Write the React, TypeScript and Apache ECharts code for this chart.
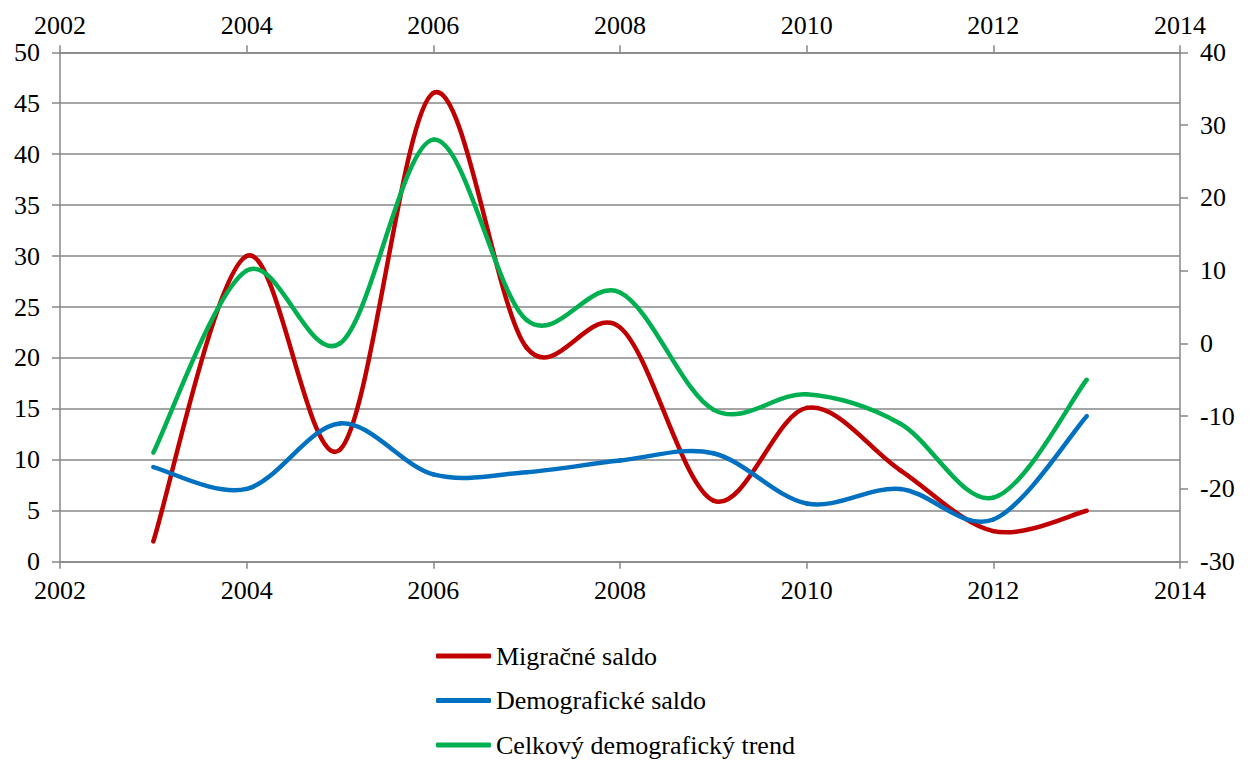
import React, { useEffect, useRef } from "react";
import * as echarts from "echarts";

const years = [2003, 2004, 2005, 2006, 2007, 2008, 2009, 2010, 2011, 2012, 2013];
const migracne = [2, 30, 11, 46, 21, 23, 6, 15.1, 9, 3, 5];
const demograficke = [-17, -20, -11, -18, -17.7, -16.1, -15.1, -22, -20, -24.2, -10];
const celkovy = [-15, 10, 0, 28, 3.2, 7, -9.1, -7, -11, -21.2, -5];

const xTicks = { min: 2002, max: 2014, interval: 2 };
const leftTicks = { min: 0, max: 50, interval: 5 };
const rightTicks = { min: -30, max: 40, interval: 10 };

const names = ["Migračné saldo", "Demografické saldo", "Celkový demografický trend"];
const colors = ["#C00000", "#0070C0", "#00B050"];

const FONT = "Liberation Serif";
const AXIS = "#878787";

// Excel-like smoothing: tangent = (next - prev) / 6, limited to half of the segment length
function makeRenderItem(values: number[], color: string) {
  return (params: any, api: any) => {
    const i = params.dataIndex;
    const n = values.length;
    if (i >= n - 1) return null;
    const pts = values.map((v, j) => api.coord([years[j], v]) as number[]);
    const p0 = pts[Math.max(i - 1, 0)];
    const p1 = pts[i];
    const p2 = pts[i + 1];
    const p3 = pts[Math.min(i + 2, n - 1)];
    const d12 = Math.hypot(p2[0] - p1[0], p2[1] - p1[1]);
    const limit = (vx: number, vy: number) => {
      const len = Math.hypot(vx, vy);
      const max = d12 / 2;
      if (len > max && len > 0) return [(vx * max) / len, (vy * max) / len];
      return [vx, vy];
    };
    const t1 = limit((p2[0] - p0[0]) / 6, (p2[1] - p0[1]) / 6);
    const t2 = limit((p3[0] - p1[0]) / 6, (p3[1] - p1[1]) / 6);
    return {
      type: "bezierCurve",
      shape: {
        x1: p1[0],
        y1: p1[1],
        x2: p2[0],
        y2: p2[1],
        cpx1: p1[0] + t1[0],
        cpy1: p1[1] + t1[1],
        cpx2: p2[0] - t2[0],
        cpy2: p2[1] - t2[1],
      },
      style: { stroke: color, lineWidth: 4.5, fill: "none", lineCap: "round", lineJoin: "round" },
    };
  };
}

export default function App() {
  const ref = useRef<HTMLDivElement>(null);
  useEffect(() => {
    if (!ref.current) return;
    const chart = echarts.init(ref.current, null, { renderer: "svg" });
    const pair = (vals: number[]) => years.map((y, i) => [y, vals[i]]);
    const label = { fontFamily: FONT, fontSize: 26, color: "#000" };
    const axisLine = { show: true, onZero: false, lineStyle: { color: AXIS, width: 1.5 } };
    const seriesDefs = [
      { vals: migracne, y: 0 },
      { vals: demograficke, y: 1 },
      { vals: celkovy, y: 1 },
    ];
    chart.setOption({
      animation: false,
      backgroundColor: "#fff",
      grid: { left: 60, right: 74, top: 52.3, bottom: 200.3, containLabel: false },
      legend: {
        orient: "vertical",
        left: 436,
        top: 643,
        padding: 0,
        itemWidth: 55,
        itemHeight: 5,
        itemGap: 18.5,
        icon: "roundRect",
        textStyle: { fontFamily: FONT, fontSize: 26, color: "#000", lineHeight: 26 },
        data: names,
      },
      xAxis: [
        {
          type: "value",
          position: "bottom",
          ...xTicks,
          axisLine,
          axisTick: { show: true, length: 7, lineStyle: { color: AXIS, width: 1.5 } },
          axisLabel: { ...label, margin: 16, formatter: (v: number) => String(v) },
          splitLine: { show: false },
        },
        {
          type: "value",
          position: "top",
          ...xTicks,
          axisLine,
          axisTick: { show: true, length: 7, lineStyle: { color: AXIS, width: 1.5 } },
          axisLabel: { ...label, margin: 14, formatter: (v: number) => String(v) },
          splitLine: { show: false },
        },
      ],
      yAxis: [
        {
          type: "value",
          position: "left",
          ...leftTicks,
          axisLine,
          axisTick: { show: true, length: 8, lineStyle: { color: AXIS, width: 1.5 } },
          axisLabel: { ...label, margin: 20 },
          splitLine: { show: true, lineStyle: { color: AXIS, width: 1.5 } },
        },
        {
          type: "value",
          position: "right",
          ...rightTicks,
          axisLine,
          axisTick: { show: true, length: 8, lineStyle: { color: AXIS, width: 1.5 } },
          axisLabel: { ...label, margin: 20 },
          splitLine: { show: false },
        },
      ],
      series: seriesDefs.map((s, k) => ({
        name: names[k],
        type: "custom",
        coordinateSystem: "cartesian2d",
        xAxisIndex: 0,
        yAxisIndex: s.y,
        data: pair(s.vals),
        encode: { x: 0, y: 1 },
        itemStyle: { color: colors[k] },
        renderItem: makeRenderItem(s.vals, colors[k]),
      })),
    });
    return () => chart.dispose();
  }, []);
  return (
    <div
      ref={ref}
      style={{ position: "fixed", left: 0, top: 0, width: 1254, height: 762, background: "#fff" }}
    />
  );
}
